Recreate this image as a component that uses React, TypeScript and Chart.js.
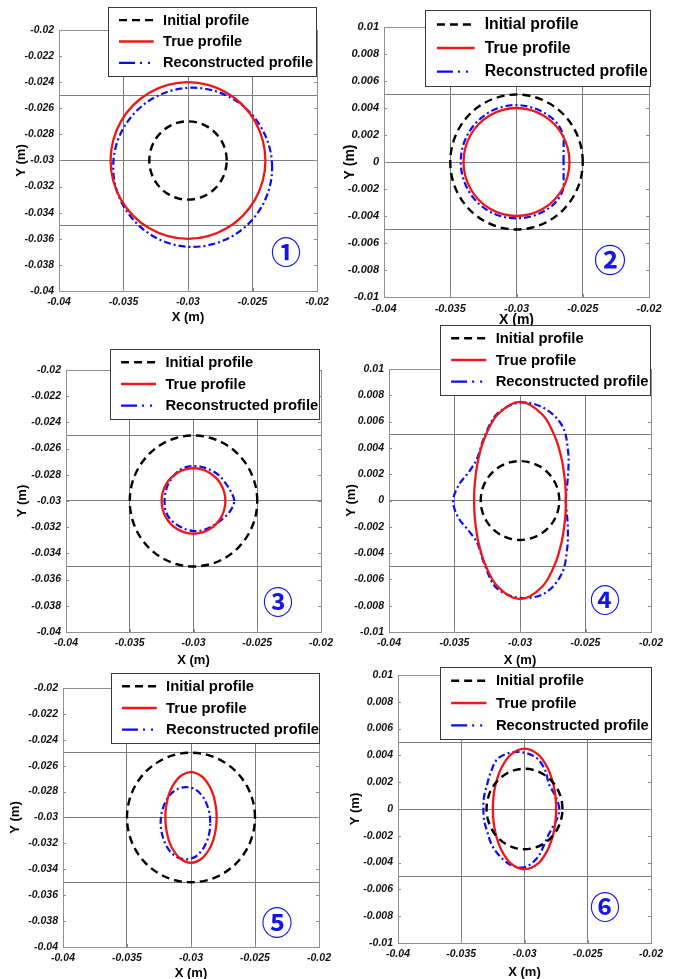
import React, { useEffect, useRef } from 'react';
import { Chart, registerables } from 'chart.js';

Chart.register(...registerables);

// ---------------- data ----------------
const ANGLES_DEG = [0, 15, 30, 45, 60, 75, 90, 105, 120, 135, 150, 165, 180, 195, 210, 225, 240, 255, 270, 285, 300, 315, 330, 345];

const X_TICKS = [-0.04, -0.035, -0.03, -0.025, -0.02];
const X_GRID = [-0.035, -0.03, -0.025];
const Y_TICKS_LOW = [-0.04, -0.038, -0.036, -0.034, -0.032, -0.03, -0.028, -0.026, -0.024, -0.022, -0.02];
const Y_GRID_LOW = [-0.035, -0.03, -0.025];
const Y_TICKS_MID = [-0.01, -0.008, -0.006, -0.004, -0.002, 0, 0.002, 0.004, 0.006, 0.008, 0.01];
const Y_GRID_MID = [-0.005, 0, 0.005];

const SERIES_LABELS = ['Initial profile', 'True profile', 'Reconstructed profile'];
const PANEL_MARKS = ['\u2460', '\u2461', '\u2462', '\u2463', '\u2464', '\u2465'];

// profile centres [x, y] and radii (m) at ANGLES_DEG
const P1_INIT_C = [-0.03, -0.03];
const P1_INIT_R = [0.003, 0.003, 0.003, 0.003, 0.003, 0.003, 0.003, 0.003, 0.003, 0.003, 0.003, 0.003, 0.003, 0.003, 0.003, 0.003, 0.003, 0.003, 0.003, 0.003, 0.003, 0.003, 0.003, 0.003];
const P1_TRUE_C = [-0.03, -0.03];
const P1_TRUE_R = [0.006, 0.006, 0.006, 0.006, 0.006, 0.006, 0.006, 0.006, 0.006, 0.006, 0.006, 0.006, 0.006, 0.006, 0.006, 0.006, 0.006, 0.006, 0.006, 0.006, 0.006, 0.006, 0.006, 0.006];
const P1_REC_C = [-0.02965, -0.03052];
const P1_REC_R = [0.00617, 0.00616, 0.00614, 0.00612, 0.0061, 0.0061, 0.0061, 0.0061, 0.00611, 0.00612, 0.00614, 0.00615, 0.00615, 0.00614, 0.00612, 0.0061, 0.0061, 0.0061, 0.0061, 0.0061, 0.00611, 0.00613, 0.00615, 0.00617];

const P2_INIT_C = [-0.03, 0];
const P2_INIT_R = [0.005, 0.005, 0.005, 0.005, 0.005, 0.005, 0.005, 0.005, 0.005, 0.005, 0.005, 0.005, 0.005, 0.005, 0.005, 0.005, 0.005, 0.005, 0.005, 0.005, 0.005, 0.005, 0.005, 0.005];
const P2_TRUE_C = [-0.03, 0];
const P2_TRUE_R = [0.004, 0.004, 0.004, 0.004, 0.004, 0.004, 0.004, 0.004, 0.004, 0.004, 0.004, 0.004, 0.004, 0.004, 0.004, 0.004, 0.004, 0.004, 0.004, 0.004, 0.004, 0.004, 0.004, 0.004];
const P2_REC_C = [-0.03, 0];
const P2_REC_R = [0.00355, 0.00368, 0.00405, 0.0042, 0.0042, 0.0042, 0.00422, 0.00422, 0.00422, 0.00421, 0.00421, 0.00421, 0.00421, 0.0042, 0.0042, 0.0042, 0.00419, 0.00418, 0.00417, 0.00418, 0.00419, 0.0042, 0.00405, 0.00368];

const P3_INIT_C = [-0.03, -0.03];
const P3_INIT_R = [0.005, 0.005, 0.005, 0.005, 0.005, 0.005, 0.005, 0.005, 0.005, 0.005, 0.005, 0.005, 0.005, 0.005, 0.005, 0.005, 0.005, 0.005, 0.005, 0.005, 0.005, 0.005, 0.005, 0.005];
const P3_TRUE_C = [-0.03, -0.03];
const P3_TRUE_R = [0.0025, 0.0025, 0.0025, 0.0025, 0.0025, 0.0025, 0.0025, 0.0025, 0.0025, 0.0025, 0.0025, 0.0025, 0.0025, 0.0025, 0.0025, 0.0025, 0.0025, 0.0025, 0.0025, 0.0025, 0.0025, 0.0025, 0.0025, 0.0025];
const P3_REC_C = [-0.03, -0.03];
const P3_REC_R = [0.0032, 0.003, 0.00285, 0.0028, 0.00272, 0.00268, 0.00267, 0.00265, 0.00255, 0.00242, 0.00235, 0.00229, 0.00227, 0.0023, 0.0023, 0.00226, 0.00222, 0.00225, 0.00229, 0.00233, 0.00238, 0.00248, 0.00268, 0.00298];

const P4_INIT_C = [-0.03, 0];
const P4_INIT_R = [0.003, 0.003, 0.003, 0.003, 0.003, 0.003, 0.003, 0.003, 0.003, 0.003, 0.003, 0.003, 0.003, 0.003, 0.003, 0.003, 0.003, 0.003, 0.003, 0.003, 0.003, 0.003, 0.003, 0.003];
const P4_TRUE_C = [-0.03, 0];
const P4_TRUE_R = [0.0035, 0.0036, 0.0039, 0.00449, 0.00544, 0.00673, 0.0075, 0.00673, 0.00544, 0.00449, 0.0039, 0.0036, 0.0035, 0.0036, 0.0039, 0.00449, 0.00544, 0.00673, 0.0075, 0.00673, 0.00544, 0.00449, 0.0039, 0.0036];
const P4_REC_C = [-0.03, 0];
const P4_REC_R = [0.0035, 0.0037, 0.00425, 0.0052, 0.0065, 0.00725, 0.00745, 0.0068, 0.0055, 0.0046, 0.00445, 0.0048, 0.0051, 0.0049, 0.00455, 0.0046, 0.0055, 0.0069, 0.0074, 0.0073, 0.0064, 0.0051, 0.00422, 0.0037];

const P5_INIT_C = [-0.03, -0.03];
const P5_INIT_R = [0.005, 0.005, 0.005, 0.005, 0.005, 0.005, 0.005, 0.005, 0.005, 0.005, 0.005, 0.005, 0.005, 0.005, 0.005, 0.005, 0.005, 0.005, 0.005, 0.005, 0.005, 0.005, 0.005, 0.005];
const P5_TRUE_C = [-0.03, -0.03];
const P5_TRUE_R = [0.002, 0.00205, 0.00219, 0.00246, 0.00284, 0.00328, 0.0035, 0.00328, 0.00284, 0.00246, 0.00219, 0.00205, 0.002, 0.00205, 0.00219, 0.00246, 0.00284, 0.00328, 0.0035, 0.00328, 0.00284, 0.00246, 0.00219, 0.00205];
const P5_REC_C = [-0.0304, -0.0304];
const P5_REC_R = [0.0019, 0.00194, 0.00204, 0.00222, 0.00246, 0.00268, 0.00275, 0.00268, 0.00248, 0.00226, 0.0021, 0.002, 0.00197, 0.002, 0.0021, 0.00228, 0.00252, 0.00274, 0.00283, 0.00274, 0.00248, 0.00224, 0.00205, 0.00195];

const P6_INIT_C = [-0.03, 0];
const P6_INIT_R = [0.003, 0.003, 0.003, 0.003, 0.003, 0.003, 0.003, 0.003, 0.003, 0.003, 0.003, 0.003, 0.003, 0.003, 0.003, 0.003, 0.003, 0.003, 0.003, 0.003, 0.003, 0.003, 0.003, 0.003];
const P6_TRUE_C = [-0.03, 0];
const P6_TRUE_R = [0.0025, 0.00256, 0.00275, 0.00309, 0.0036, 0.0042, 0.0045, 0.0042, 0.0036, 0.00309, 0.00275, 0.00256, 0.0025, 0.00256, 0.00275, 0.00309, 0.0036, 0.0042, 0.0045, 0.0042, 0.0036, 0.00309, 0.00275, 0.00256];
const P6_REC_C = [-0.03, 0];
const P6_REC_R = [0.00275, 0.00266, 0.0026, 0.0027, 0.0033, 0.0039, 0.0042, 0.00435, 0.0043, 0.0038, 0.00345, 0.00332, 0.00325, 0.0033, 0.0034, 0.0037, 0.004, 0.0043, 0.00435, 0.0038, 0.0031, 0.0027, 0.0026, 0.00268];

// ---------------- styles / layout ----------------
const SERIES_STYLE = [
  { color: '#000000', width: 2.4, dash: [8, 5], legendDash: [8, 5] },
  { color: '#f01616', width: 2.3, dash: [] as number[], legendDash: [] as number[] },
  { color: '#0a0aff', width: 2.2, dash: [7, 3, 2, 3], legendDash: [16, 5, 2, 6, 2, 10] },
];

type PanelCfg = {
  canvas: number[]; area: number[]; yMin: number; yMax: number; yTicks: number[]; yGrid: number[];
  profiles: number[][][]; legend: number[]; legendFs: number; tickFs: number; titleFs: number;
  xTitleY: number; yTitleX: number; mark: number[]; markFs: number;
};

const PANELS: PanelCfg[] = [
  { canvas: [0, 0, 338, 326], area: [59, 30, 317, 291], yMin: -0.04, yMax: -0.02, yTicks: Y_TICKS_LOW, yGrid: Y_GRID_LOW,
    profiles: [[P1_INIT_C, P1_INIT_R], [P1_TRUE_C, P1_TRUE_R], [P1_REC_C, P1_REC_R]],
    legend: [108, 7, 208, 69], legendFs: 14.5, tickFs: 10.4, titleFs: 13, xTitleY: 317, yTitleX: 21.5, mark: [286, 252], markFs: 30 },
  { canvas: [338, 0, 338, 326], area: [384, 27, 649, 297], yMin: -0.01, yMax: 0.01, yTicks: Y_TICKS_MID, yGrid: Y_GRID_MID,
    profiles: [[P2_INIT_C, P2_INIT_R], [P2_TRUE_C, P2_TRUE_R], [P2_REC_C, P2_REC_R]],
    legend: [425, 10, 225, 76], legendFs: 15.8, tickFs: 11, titleFs: 14, xTitleY: 320, yTitleX: 350, mark: [610, 260], markFs: 32 },
  { canvas: [0, 326, 338, 342], area: [66, 370, 321, 632], yMin: -0.04, yMax: -0.02, yTicks: Y_TICKS_LOW, yGrid: Y_GRID_LOW,
    profiles: [[P3_INIT_C, P3_INIT_R], [P3_TRUE_C, P3_TRUE_R], [P3_REC_C, P3_REC_R]],
    legend: [110, 349, 209, 70], legendFs: 14.8, tickFs: 10.5, titleFs: 13, xTitleY: 660, yTitleX: 22, mark: [278, 602], markFs: 30 },
  { canvas: [338, 320, 338, 348], area: [389, 369, 651, 632], yMin: -0.01, yMax: 0.01, yTicks: Y_TICKS_MID, yGrid: Y_GRID_MID,
    profiles: [[P4_INIT_C, P4_INIT_R], [P4_TRUE_C, P4_TRUE_R], [P4_REC_C, P4_REC_R]],
    legend: [440, 325, 210, 70], legendFs: 14.8, tickFs: 10.5, titleFs: 13, xTitleY: 660, yTitleX: 351, mark: [605, 600], markFs: 30 },
  { canvas: [0, 665, 338, 314], area: [63, 688, 319, 947], yMin: -0.04, yMax: -0.02, yTicks: Y_TICKS_LOW, yGrid: Y_GRID_LOW,
    profiles: [[P5_INIT_C, P5_INIT_R], [P5_TRUE_C, P5_TRUE_R], [P5_REC_C, P5_REC_R]],
    legend: [111, 673, 208, 70], legendFs: 14.8, tickFs: 10.5, titleFs: 13, xTitleY: 973, yTitleX: 15.5, mark: [277, 922], markFs: 31 },
  { canvas: [338, 660, 338, 319], area: [398, 675, 651, 943], yMin: -0.01, yMax: 0.01, yTicks: Y_TICKS_MID, yGrid: Y_GRID_MID,
    profiles: [[P6_INIT_C, P6_INIT_R], [P6_TRUE_C, P6_TRUE_R], [P6_REC_C, P6_REC_R]],
    legend: [440, 667, 211, 72], legendFs: 14.8, tickFs: 10.5, titleFs: 13, xTitleY: 972, yTitleX: 355.5, mark: [605, 907], markFs: 30 },
];

const FONT = '"Liberation Sans", Arial, Helvetica, sans-serif';
const GRID_COLOR = '#7d7d7d';
const FRAME_COLOR = '#8f8f8f';

function polarProfile(center: number[], radii: number[]) {
  return radii.map((r, i) => {
    const a = (ANGLES_DEG[i] * Math.PI) / 180;
    return { x: center[0] + r * Math.cos(a), y: center[1] + r * Math.sin(a) };
  });
}

const near = (v: number, list: number[]) => list.some((w) => Math.abs(w - v) < 1e-9);
const fmt = (v: number) => String(parseFloat(v.toFixed(4)));
const union = (a: number[], b: number[]) => Array.from(new Set([...a, ...b].map((v) => parseFloat(v.toFixed(6))))).sort((m, n) => m - n);

function Panel({ index }: { index: number }) {
  const ref = useRef<HTMLCanvasElement | null>(null);
  const p = PANELS[index];
  const [cl, ct, cw, ch] = p.canvas;
  const [L, T, R, B] = p.area;

  useEffect(() => {
    if (!ref.current) return;
    const xAll = union(X_TICKS, X_GRID);
    const yAll = union(p.yTicks, p.yGrid);

    const decor = {
      id: 'decor' + index,
      beforeDatasetsDraw(chart: any) {
        const { ctx, chartArea: a, scales } = chart;
        ctx.save();
        ctx.strokeStyle = FRAME_COLOR;
        ctx.lineWidth = 1;
        ctx.setLineDash([]);
        ctx.strokeRect(Math.round(a.left) + 0.5, Math.round(a.top) + 0.5, Math.round(a.right - a.left), Math.round(a.bottom - a.top));
        ctx.beginPath();
        X_TICKS.forEach((v) => {
          const x = Math.round(scales.x.getPixelForValue(v)) + 0.5;
          ctx.moveTo(x, a.bottom); ctx.lineTo(x, a.bottom - 3);
          ctx.moveTo(x, a.top); ctx.lineTo(x, a.top + 3);
        });
        p.yTicks.forEach((v) => {
          const y = Math.round(scales.y.getPixelForValue(v)) + 0.5;
          ctx.moveTo(a.left, y); ctx.lineTo(a.left + 3, y);
          ctx.moveTo(a.right, y); ctx.lineTo(a.right - 3, y);
        });
        ctx.stroke();
        ctx.restore();
        // closed profiles
        chart.getSortedVisibleDatasetMetas().forEach((meta: any) => {
          const line = meta.dataset;
          if (line) {
            line._loop = true;
            line._fullLoop = true;
            line._pointsUpdated = false;
            delete line._segments;
            delete line._path;
          }
        });
      },
      afterDraw(chart: any) {
        const { ctx } = chart;
        const [lx, ly, lw, lh] = p.legend;
        const x0 = lx - cl;
        const y0 = ly - ct;
        ctx.save();
        ctx.fillStyle = '#ffffff';
        ctx.fillRect(x0, y0, lw, lh);
        ctx.strokeStyle = '#3a3a3a';
        ctx.lineWidth = 1;
        ctx.setLineDash([]);
        ctx.strokeRect(x0 + 0.5, y0 + 0.5, lw, lh);
        const rows = [0.19, 0.5, 0.81];
        chart.data.datasets.forEach((ds: any, i: number) => {
          const y = y0 + lh * rows[i];
          const st = SERIES_STYLE[i];
          ctx.beginPath();
          ctx.setLineDash(st.legendDash);
          ctx.strokeStyle = st.color;
          ctx.lineWidth = st.width;
          ctx.moveTo(x0 + 0.053 * lw, y);
          ctx.lineTo(x0 + 0.22 * lw, y);
          ctx.stroke();
          ctx.setLineDash([]);
          ctx.fillStyle = '#000000';
          ctx.font = `bold ${p.legendFs}px ${FONT}`;
          ctx.textAlign = 'left';
          ctx.textBaseline = 'middle';
          ctx.fillText(ds.label, x0 + 0.265 * lw, y + 0.5);
        });
        ctx.font = `bold ${p.markFs}px "Noto Sans CJK SC", "DejaVu Sans", sans-serif`;
        ctx.fillStyle = '#1515e8';
        ctx.textAlign = 'center';
        ctx.textBaseline = 'middle';
        ctx.fillText(PANEL_MARKS[index], p.mark[0] - cl, p.mark[1] - ct);
        ctx.restore();
      },
    };

    const datasets = p.profiles.map(([c, r], i) => ({
      label: SERIES_LABELS[i],
      data: polarProfile(c, r),
      borderColor: SERIES_STYLE[i].color,
      borderWidth: SERIES_STYLE[i].width,
      borderDash: SERIES_STYLE[i].dash,
      pointRadius: 0,
      fill: false,
      tension: 0.34,
    }));

    const tickFont = { family: FONT, size: p.tickFs, style: 'italic' as const, weight: 'bold' as const };
    const titleFont = { family: FONT, size: p.titleFs, weight: 'bold' as const };
    const half = p.titleFs * 0.6;

    const chart = new Chart(ref.current, {
      type: 'line',
      data: { datasets },
      options: {
        animation: false,
        responsive: false,
        events: [],
        layout: { padding: { left: 0, top: T - ct, right: cl + cw - R, bottom: 0 } },
        plugins: { legend: { display: false }, tooltip: { enabled: false } },
        scales: {
          x: {
            type: 'linear',
            position: 'bottom',
            min: -0.04,
            max: -0.02,
            afterBuildTicks: (s: any) => { s.ticks = xAll.map((v) => ({ value: v })); },
            afterFit: (s: any) => { s.height = ct + ch - B; },
            border: { display: false },
            grid: {
              drawTicks: false,
              lineWidth: 1,
              color: (c: any) => (c.tick && near(c.tick.value, X_GRID) ? GRID_COLOR : 'rgba(0,0,0,0)'),
            },
            ticks: {
              autoSkip: false,
              maxRotation: 0,
              padding: 5,
              color: '#111111',
              font: tickFont,
              callback: (v: any) => (near(Number(v), X_TICKS) ? fmt(Number(v)) : ''),
            },
            title: { display: true, text: 'X (m)', color: '#000000', font: titleFont, padding: ct + ch - p.xTitleY - half },
          },
          y: {
            type: 'linear',
            position: 'left',
            min: p.yMin,
            max: p.yMax,
            afterBuildTicks: (s: any) => { s.ticks = yAll.map((v) => ({ value: v })); },
            afterFit: (s: any) => { s.width = L - cl; },
            border: { display: false },
            grid: {
              drawTicks: false,
              lineWidth: 1,
              color: (c: any) => (c.tick && near(c.tick.value, p.yGrid) ? GRID_COLOR : 'rgba(0,0,0,0)'),
            },
            ticks: {
              autoSkip: false,
              padding: 5,
              color: '#111111',
              font: tickFont,
              callback: (v: any) => (near(Number(v), p.yTicks) ? fmt(Number(v)) : ''),
            },
            title: { display: true, text: 'Y (m)', color: '#000000', font: titleFont, padding: p.yTitleX - cl - half },
          },
        },
      } as any,
      plugins: [decor],
    });
    return () => chart.destroy();
  }, [index]);

  return (
    <canvas
      ref={ref}
      width={cw}
      height={ch}
      style={{ position: 'absolute', left: cl, top: ct, width: cw, height: ch }}
    />
  );
}

export default function App() {
  return (
    <div style={{ position: 'absolute', left: 0, top: 0, width: 676, height: 979, background: '#ffffff', overflow: 'hidden' }}>
      {PANELS.map((_, i) => (
        <Panel key={i} index={i} />
      ))}
    </div>
  );
}
